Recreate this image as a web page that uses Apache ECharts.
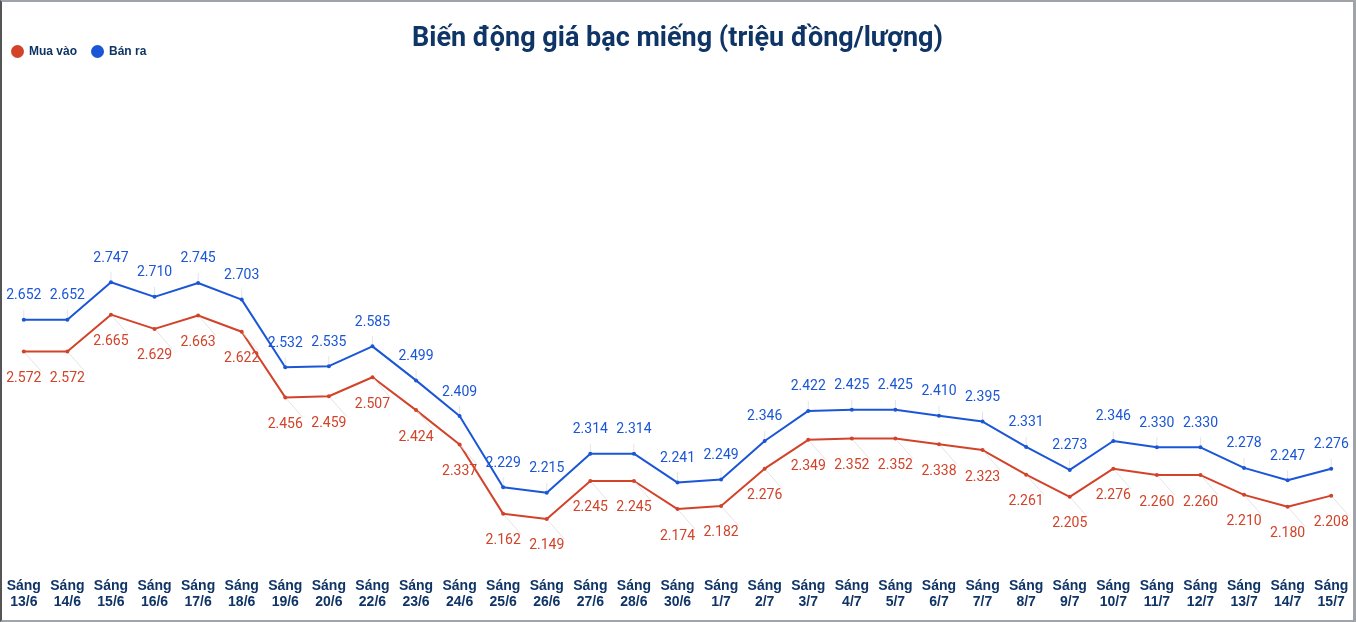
<!DOCTYPE html>
<html>
<head>
<meta charset="utf-8">
<script src="https://cdn.jsdelivr.net/npm/echarts@6/dist/echarts.min.js"></script>
<style>
  html, body { margin: 0; padding: 0; background: #fff; }
  #chart {
    width: 1356px; height: 622px; box-sizing: border-box;
    border-top: 2px solid #a0a4a8; border-right: 3px solid #a0a4a8;
    border-bottom: 2px solid #a0a4a8; border-left: 2px solid #555;
  }
</style>
</head>
<body>
<div id="chart"></div>
<script>
const categories = ['Sáng\n13/6', 'Sáng\n14/6', 'Sáng\n15/6', 'Sáng\n16/6', 'Sáng\n17/6', 'Sáng\n18/6',
  'Sáng\n19/6', 'Sáng\n20/6', 'Sáng\n22/6', 'Sáng\n23/6', 'Sáng\n24/6', 'Sáng\n25/6', 'Sáng\n26/6',
  'Sáng\n27/6', 'Sáng\n28/6', 'Sáng\n30/6', 'Sáng\n1/7', 'Sáng\n2/7', 'Sáng\n3/7', 'Sáng\n4/7',
  'Sáng\n5/7', 'Sáng\n6/7', 'Sáng\n7/7', 'Sáng\n8/7', 'Sáng\n9/7', 'Sáng\n10/7', 'Sáng\n11/7',
  'Sáng\n12/7', 'Sáng\n13/7', 'Sáng\n14/7', 'Sáng\n15/7']

// Mua vào
const buyData = [2.572, 2.572, 2.665, 2.629, 2.663, 2.622, 2.456, 2.459, 2.507, 2.424, 2.337,
  2.162, 2.149, 2.245, 2.245, 2.174, 2.182, 2.276, 2.349, 2.352, 2.352, 2.338, 2.323,
  2.261, 2.205, 2.276, 2.260, 2.260, 2.210, 2.180, 2.208]

// Bán ra
const sellData = [2.652, 2.652, 2.747, 2.710, 2.745, 2.703, 2.532, 2.535, 2.585, 2.499, 2.409,
  2.229, 2.215, 2.314, 2.314, 2.241, 2.249, 2.346, 2.422, 2.425, 2.425, 2.410, 2.395,
  2.331, 2.273, 2.346, 2.330, 2.330, 2.278, 2.247, 2.276]

const red = '#d2432a'
const blue = '#1a56d6'
const navy = '#0f3466'

const chart = echarts.init(document.getElementById('chart'))

const option = {
  animation: false,
  title: {
    text: 'Biến động giá bạc miếng (triệu đồng/lượng)',
    left: 'center',
    top: 19,
    textStyle: { fontFamily: 'Roboto', fontSize: 27, fontWeight: 'bold', color: navy }
  },
  legend: {
    left: 4,
    top: 38,
    icon: 'circle',
    itemWidth: 13,
    itemHeight: 13,
    itemGap: 14,
    textStyle: { fontFamily: 'Liberation Sans', fontSize: 12, fontWeight: 'bold', color: navy },
    data: ['Mua vào', 'Bán ra']
  },
  grid: { left: 0, right: 0, top: 180, bottom: 42 },
  xAxis: {
    type: 'category',
    data: categories,
    boundaryGap: true,
    axisLine: { show: false },
    axisTick: { show: false },
    axisLabel: {
      interval: 0,
      margin: 0,
      lineHeight: 16,
      fontFamily: 'Liberation Sans',
      fontSize: 14,
      fontWeight: 'bold',
      color: navy
    }
  },
  yAxis: {
    type: 'value',
    min: 2.0,
    max: 3.0,
    show: false,
    splitLine: { show: false }
  },
  series: [
    {
      name: 'Mua vào',
      type: 'line',
      data: buyData,
      color: red,
      symbol: 'circle',
      symbolSize: 4,
      lineStyle: { color: red, width: 2 },
      label: {
        show: true,
        position: 'bottom',
        distance: 18,
        fontFamily: 'Roboto',
        fontSize: 14,
        color: red,
        formatter: p => p.value.toFixed(3)
      },
      labelLine: { show: true, lineStyle: { color: '#e4e4e4', width: 1 } }
    },
    {
      name: 'Bán ra',
      type: 'line',
      data: sellData,
      color: blue,
      symbol: 'circle',
      symbolSize: 4,
      lineStyle: { color: blue, width: 2 },
      label: {
        show: true,
        position: 'top',
        distance: 15,
        fontFamily: 'Roboto',
        fontSize: 14,
        color: blue,
        formatter: p => p.value.toFixed(3)
      },
      labelLine: { show: true, lineStyle: { color: '#e4e4e4', width: 1 } }
    }
  ]
}

chart.setOption(option)
</script>
</body>
</html>
